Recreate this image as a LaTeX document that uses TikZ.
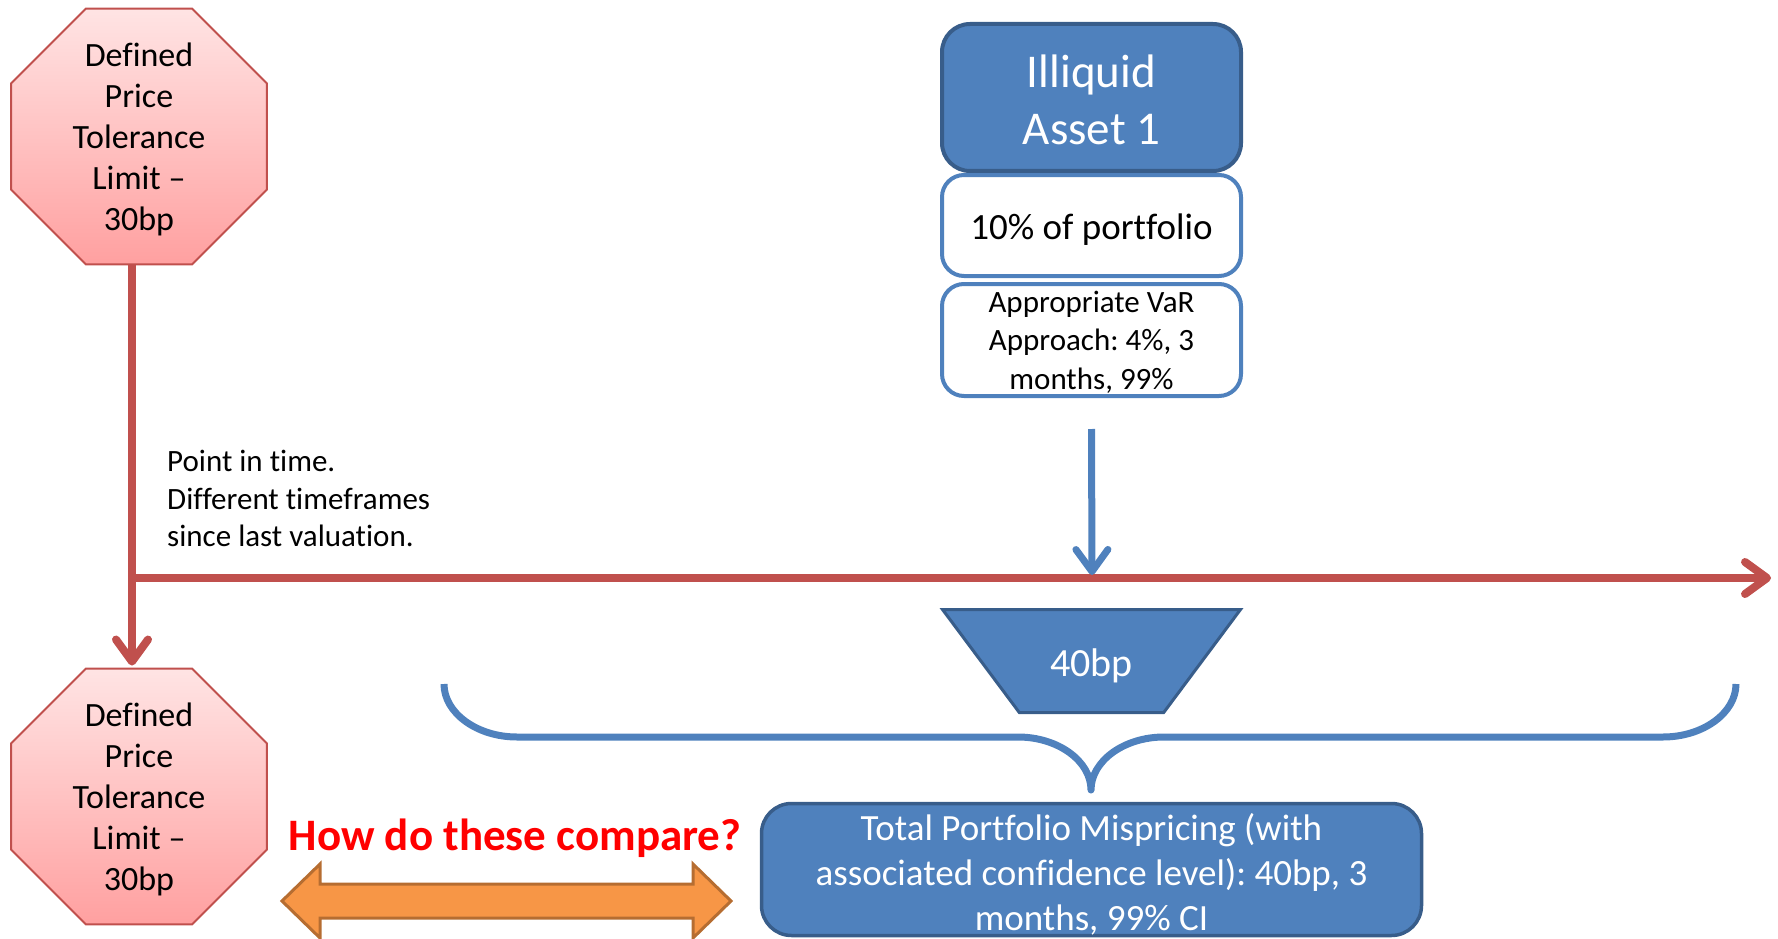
\documentclass[tikz,border=0pt]{standalone}
\usepackage{fontspec}
\setmainfont{Carlito}[Ligatures={NoCommon,NoContextual}]
\frenchspacing
\usetikzlibrary{arrows.meta,shapes.geometric}
\definecolor{pblue}{HTML}{4F81BD}
\definecolor{dblue}{HTML}{385D8A}
\definecolor{pred}{HTML}{C0504D}
\definecolor{porange}{HTML}{F79646}
\definecolor{dorange}{HTML}{B66D31}
\definecolor{pinktop}{HTML}{FFE4E4}
\definecolor{pinkbot}{HTML}{FFA0A0}
\begin{document}
\begin{tikzpicture}[x=1pt,y=-1pt,
  octagon/.style={regular polygon, regular polygon sides=8, minimum size=277pt, inner sep=0pt,
    draw=pred, line width=2pt, top color=pinktop, bottom color=pinkbot},
  octtext/.style={align=center, font=\fontsize{34}{41}\selectfont},
  bluebox/.style={rounded corners=28pt, fill=pblue, draw=dblue, line width=4pt},
  whitebox/.style={rounded corners=22pt, fill=white, draw=pblue, line width=4pt},
  whitetext/.style={text=white, align=center},
  blacktext/.style={align=center},
  redarrow/.style={draw=pred, line width=8pt, -{Straight Barb[length=22pt,width=32pt,round]}},
  bluearrow/.style={draw=pblue, line width=7pt, -{Straight Barb[length=22pt,width=32pt,round]}},
  bracestyle/.style={draw=pblue, line width=7pt, line join=round},
  dblarrow/.style={fill=porange, draw=dorange, line width=3pt, line join=miter}
]
\useasboundingbox (0,0) rectangle (1778,939);

% octagons
\node[octagon] (oct1) at (139,136.5) {};
\node[octtext] (oct1t) at ([yshift=-2.5pt]oct1.center) {Defined\\Price\\Tolerance\\Limit –\\30bp};
\node[octagon] (oct2) at (139,796.5) {};
\node[octtext] (oct2t) at ([yshift=-2.5pt]oct2.center) {Defined\\Price\\Tolerance\\Limit –\\30bp};

% red timeline
\coordinate (tl) at (132,578);
\coordinate (tr) at (1771,578);
\draw[redarrow] ([xshift=-7pt]oct1.south) -- ([xshift=-7pt,yshift=2pt]oct2.north);
\draw[redarrow] ([xshift=-4pt]tl) -- (tr);

\node[anchor=north west, align=left, inner sep=0pt, font=\fontsize{31}{37.5}\selectfont] (pit) at (167,450)
  {Point in time.\\Different timeframes\\since last valuation.};

% asset stack
\node[whitebox, minimum width=299pt, minimum height=101pt] (pct) at (1091.5,225.5) {};
\node[blacktext, font=\fontsize{37}{44}\selectfont] (pctt) at ([yshift=-4.5pt]pct.center) {10\% of portfolio};
\node[whitebox, minimum width=299pt, minimum height=112pt] (var) at (1091.5,340) {};
\node[blacktext, font=\fontsize{31}{38.5}\selectfont] (vart) at ([yshift=-2pt]var.center)
  {Appropriate VaR\\Approach: 4\%, 3\\months, 99\%};
\node[bluebox, minimum width=299pt, minimum height=147pt] (ill) at (1091.5,97.5) {};
\node[whitetext, font=\fontsize{47}{57}\selectfont] (illt) at ([yshift=-2.5pt]ill.center) {Illiquid\\Asset 1};

\coordinate (bt) at (1092,575);
\draw[bluearrow] ([yshift=-31pt]var.south) -- (bt);

% trapezium
\node[trapezium, shape border rotate=180, trapezium angle=62, trapezium stretches=true,
  minimum width=298pt, minimum height=103pt, fill=pblue, draw=dblue, line width=3pt] (tz) at (1091.5,661) {};
\node[whitetext, font=\fontsize{40}{48}\selectfont] (tzt) at ([yshift=-4.5pt]tz.center) {40bp};

% brace
\draw[bracestyle] (444,684) .. controls (444,713) and (477,737) .. (517,737)
  -- (1018,737) .. controls (1058,737) and (1091,761) .. (1091,790)
  .. controls (1091,761) and (1124,737) .. (1164,737)
  -- (1663,737) .. controls (1703,737) and (1736,713) .. (1736,684);

% total box
\node[bluebox, rounded corners=30pt, line width=3.5pt, minimum width=660pt, minimum height=132pt] (tot) at (1091.5,869.5) {};
\node[whitetext, font=\fontsize{37}{45}\selectfont] (tott) at ([yshift=-4.5pt]tot.center)
  {Total Portfolio Mispricing (with\\associated confidence level): 40bp, 3\\months, 99\% CI};

% comparison
\node[anchor=base, text=red, font=\fontsize{45}{54}\selectfont\bfseries] (q) at (515,850) {How do these compare?};
\draw[dblarrow] (282,901) -- (320,864) -- (320,884) -- (693,884) -- (693,864) -- (731,901)
  -- (693,938) -- (693,918) -- (320,918) -- (320,938) -- cycle;
\end{tikzpicture}
\end{document}
